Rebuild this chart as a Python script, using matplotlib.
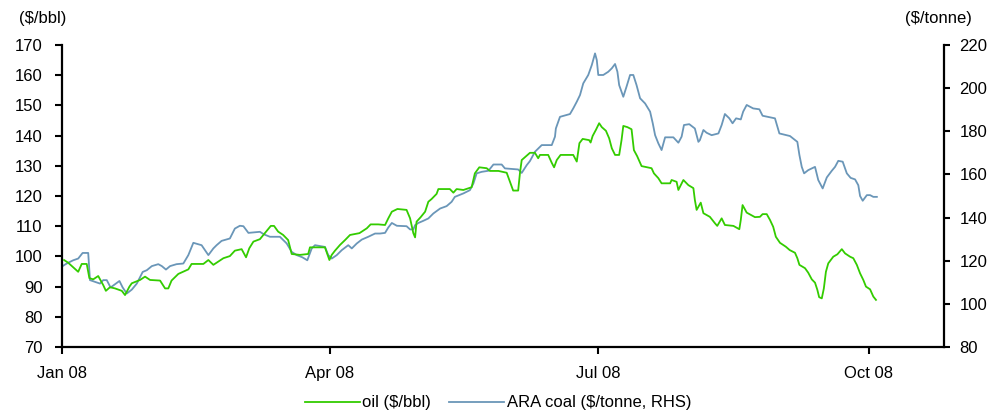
import numpy as np
import matplotlib
matplotlib.use("Agg")
import matplotlib.pyplot as plt
import datetime as dt

# ---- data (days since 1 Jan 2008, values) ----
oil_days = [0.7, 2.1, 3.8, 5.5, 6.7, 8.4, 9.3, 10.6, 12.3, 14.0, 14.9, 16.3, 18.0, 20.3, 21.4, 22.9,
            23.7, 26.5, 28.2, 29.9, 33.3, 35.0, 36.1, 37.2, 39.5, 42.9, 44.0, 48.0, 49.7, 51.4, 54.8,
            57.0, 58.7, 61.0, 62.5, 63.6, 65.0, 67.2, 68.9, 70.9, 72.0, 73.4, 75.1, 76.8, 78.0, 80.8,
            83.6, 84.2, 89.3, 90.8, 91.6, 92.7, 94.4, 96.1, 97.8, 101.0, 103.5, 104.8, 107.4, 109.7,
            110.8, 112.0, 113.9, 117.0, 118.2, 119.3, 119.9, 120.4, 121.8, 123.3, 124.4, 125.5, 127.2,
            127.8, 131.7, 132.9, 134.0, 136.3, 139.1, 140.2, 141.7, 144.2, 145.3, 148.2, 151.0, 152.1,
            153.2, 154.9, 155.5, 156.1, 158.9, 160.6, 161.7, 162.3, 165.1, 166.3, 167.1, 168.0, 169.3,
            173.6, 174.8, 175.7, 176.8, 179.0, 179.5, 180.2, 181.3, 182.4, 183.3, 184.7, 185.8, 186.7,
            187.8, 189.2, 190.0, 190.6, 192.0, 193.4, 194.2, 195.3, 196.8, 200.2, 201.0, 202.5, 203.6,
            206.5, 207.0, 208.7, 209.3, 211.0, 212.7, 214.4, 214.9, 215.5, 216.9, 217.8, 220.0, 221.7,
            222.5, 224.0, 225.1, 228.0, 230.0, 230.5, 231.1, 232.5, 235.3, 237.0, 237.9, 239.3, 240.4,
            241.5, 242.4, 243.8, 245.8, 247.1, 248.9, 249.7, 250.4, 252.3, 253.4, 254.6, 255.7, 256.5,
            257.1, 258.0, 258.7, 259.4, 260.2, 261.9, 263.3, 264.8, 265.9, 267.6, 268.7, 269.9, 271.0,
            272.1, 273.0, 274.4, 275.5, 276.4]
oil_values = [98.8, 97.9, 96.4, 94.9, 97.5, 97.5, 92.8, 92.4, 93.5, 90.5, 88.6, 89.8, 89.4, 88.6, 87.2, 90.0,
              91.1, 92.2, 93.3, 92.2, 92.0, 89.4, 89.4, 92.0, 94.2, 95.7, 97.5, 97.5, 98.8, 97.2, 99.4,
              100.1, 101.9, 102.4, 99.7, 102.7, 104.9, 105.7, 107.7, 110.1, 110.1, 108.2, 107.1, 105.4, 100.8, 100.5,
              100.8, 103.0, 103.0, 98.8, 100.5, 101.9, 103.8, 105.4, 107.1, 107.7, 109.3, 110.6, 110.6, 110.4,
              112.6, 114.8, 115.7, 115.4, 112.6, 107.7, 106.3, 111.5, 113.0, 114.8, 118.1, 119.0, 120.7,
              122.3, 122.3, 121.1, 122.3, 122.0, 122.9, 127.5, 129.5, 129.2, 128.3, 128.3, 127.7, 124.7,
              121.8, 121.8, 127.5, 131.9, 134.3, 134.3, 132.5, 133.6, 133.6, 131.0, 129.5, 131.9, 133.6,
              133.6, 131.4, 137.5, 138.9, 138.5, 137.7, 139.9, 141.9, 144.1, 142.8, 141.6, 139.1, 135.8,
              133.6, 133.6, 138.5, 143.2, 142.8, 142.1, 135.2, 133.2, 129.9, 129.2, 127.5, 125.9, 124.2,
              124.2, 125.3, 124.7, 122.0, 125.3, 123.6, 122.6, 118.7, 115.4, 117.8, 114.3, 113.1, 111.0,
              110.1, 112.6, 110.4, 110.1, 109.0, 112.1, 117.0, 114.5, 113.0, 113.1, 114.0, 114.0, 112.1,
              109.8, 106.5, 104.5, 103.2, 102.1, 101.2, 99.4, 97.2, 96.1, 94.6, 92.4, 91.3, 88.9,
              86.5, 86.1, 89.4, 94.9, 97.7, 99.9, 100.7, 102.4, 101.0, 99.9, 99.4, 97.2, 94.4,
              92.2, 90.0, 89.1, 86.7, 85.6]

coal_days = [0.2, 1.6, 3.8, 5.5, 7.0, 8.9, 9.5, 11.2, 12.9, 14.0, 15.2, 16.5, 18.0, 19.5, 20.6, 22.0,
             23.7, 25.4, 27.4, 28.8, 30.5, 32.7, 33.9, 35.3, 36.7, 38.9, 41.2, 42.9, 44.6, 47.4, 49.7,
             51.4, 52.5, 54.2, 57.0, 58.7, 60.4, 61.6, 63.3, 67.2, 68.6, 70.6, 74.0, 76.3, 78.0, 79.7,
             81.6, 83.3, 84.8, 85.9, 89.3, 90.4, 91.6, 93.3, 95.0, 97.2, 98.4, 100.1, 101.8, 104.0,
             106.3, 108.0, 109.7, 110.8, 112.0, 113.7, 117.0, 118.2, 119.3, 119.9, 121.0, 122.7, 124.4,
             126.1, 128.4, 130.6, 132.3, 133.4, 136.3, 138.5, 139.7, 140.8, 142.5, 144.8, 146.5, 149.3,
             150.4, 154.9, 156.1, 157.8, 158.9, 160.6, 162.9, 166.3, 167.4, 167.7, 169.1, 172.5, 173.6,
             174.8, 175.9, 177.0, 178.7, 179.9, 181.0, 181.6, 182.1, 183.8, 185.5, 186.7, 187.8, 188.6,
             189.2, 190.6, 191.7, 192.9, 194.0, 195.1, 196.3, 198.0, 199.7, 200.6, 201.4, 202.5, 203.6,
             204.8, 207.6, 209.3, 210.4, 211.2, 213.0, 214.9, 216.1, 216.6, 217.8, 218.9, 220.6, 222.9,
             224.0, 225.1, 226.6, 227.7, 228.9, 230.5, 231.3, 232.5, 234.7, 236.8, 237.9, 242.1, 243.6,
             247.2, 249.7, 250.4, 251.2, 252.0, 253.4, 255.7, 256.8, 258.3, 259.7, 261.4, 262.5, 263.6,
             265.1, 266.5, 267.8, 269.3, 270.4, 271.0, 271.9, 273.3, 274.4, 275.5, 276.7]
coal_values = [117.5, 118.7, 120.2, 121.0, 123.6, 123.6, 111.0, 110.2, 109.4, 111.0, 111.0, 107.6, 109.1, 110.6, 107.6, 104.8,
               106.6, 109.4, 114.8, 115.6, 117.5, 118.4, 117.5, 115.9, 117.5, 118.4, 118.7, 122.6, 128.3, 127.2, 122.6,
               125.7, 127.2, 129.2, 130.3, 134.9, 136.2, 136.0, 132.9, 133.4, 132.2, 131.1, 131.1, 128.0, 124.1, 122.6,
               121.6, 120.2, 125.7, 127.2, 126.4, 122.6, 121.0, 122.6, 124.9, 127.2, 125.7, 128.0, 129.8, 131.1,
               132.6, 132.6, 132.9, 135.4, 137.5, 136.2, 136.0, 134.5, 134.5, 136.5, 137.5, 138.5, 139.6,
               141.9, 144.2, 145.3, 147.3, 149.6, 151.2, 152.7, 155.8, 160.5, 161.2, 161.7, 164.6, 164.6,
               162.8, 162.3, 160.7, 164.3, 166.2, 170.5, 173.6, 173.6, 177.5, 181.3, 186.7, 188.0, 190.6,
               193.7, 196.8, 202.2, 206.1, 210.7, 216.1, 213.0, 206.1, 206.1, 207.6, 209.2, 211.2, 207.6,
               201.4, 196.0, 200.7, 206.1, 206.1, 201.4, 195.3, 192.9, 189.1, 183.7, 178.2, 174.4, 171.3,
               177.2, 177.2, 174.7, 177.5, 182.9, 183.3, 181.3, 175.1, 175.9, 180.6, 179.3, 178.2, 179.0,
               182.9, 188.0, 186.0, 183.7, 186.0, 185.5, 189.1, 192.2, 190.6, 190.2, 187.2, 186.0, 179.0,
               177.8, 175.1, 169.0, 163.5, 160.5, 162.0, 163.5, 157.4, 153.5, 158.6, 161.7, 163.5, 166.3,
               165.9, 160.5, 158.4, 157.7, 155.0, 150.0, 147.8, 150.4, 150.4, 149.6, 149.6]

x_tick_labels = ["Jan 08", "Apr 08", "Jul 08", "Oct 08"]
x_tick_dates = ["2008-01-01", "2008-04-01", "2008-07-01", "2008-10-01"]
left_ticks = [70, 80, 90, 100, 110, 120, 130, 140, 150, 160, 170]
right_ticks = [80, 100, 120, 140, 160, 180, 200, 220]

plt.rcParams['font.family'] = ['Liberation Sans', 'DejaVu Sans']

base = dt.datetime(2008, 1, 1)
oil_dates = [base + dt.timedelta(days=d) for d in oil_days]
coal_dates = [base + dt.timedelta(days=d) for d in coal_days]

GREEN = "#33cc00"
BLUE = "#6a96b8"
FS = 12

fig = plt.figure(figsize=(10.06, 4.16), dpi=100)
ax = fig.add_axes([62/1006, 1-347/416, (944-62)/1006, (347-45)/416])
ax2 = ax.twinx()

l1, = ax.plot(oil_dates, oil_values, color=GREEN, lw=1.3, label="oil ($/bbl)", zorder=3)
l2, = ax2.plot(coal_dates, coal_values, color=BLUE, lw=1.3, label="ARA coal ($/tonne, RHS)", zorder=2)
ax.set_zorder(ax2.get_zorder() + 1)
ax.patch.set_visible(False)

ax.set_xlim(base, base + dt.timedelta(days=299.5))
ax.set_ylim(70, 170)
ax2.set_ylim(80, 220)
ax.set_yticks(left_ticks)
ax2.set_yticks(right_ticks)
ax.set_xticks([dt.datetime.strptime(s, "%Y-%m-%d") for s in x_tick_dates])
ax.set_xticklabels(x_tick_labels)

for a in (ax, ax2):
    a.spines['top'].set_visible(False)
    for s in ('left', 'right', 'bottom'):
        a.spines[s].set_linewidth(1.6)
        a.spines[s].set_color('black')
ax.spines['right'].set_visible(False)
ax2.spines['left'].set_visible(False)
ax2.spines['bottom'].set_visible(False)

ax.tick_params(axis='y', direction='out', length=5, width=1.5, pad=9, labelsize=FS)
ax.tick_params(axis='x', direction='out', length=5, width=1.5, pad=9, labelsize=FS)
ax2.tick_params(axis='y', direction='out', length=4, width=1.5, pad=7, labelsize=FS)

fig.text(43/1006, 1-18/416, "($/bbl)", ha='center', va='center', fontsize=FS)
fig.text(938/1006, 1-18/416, "($/tonne)", ha='center', va='center', fontsize=FS)

fig.legend(handles=[l1, l2], loc='center', bbox_to_anchor=(0.495, 1-403/416), ncol=2,
           frameon=False, fontsize=FS, handlelength=3.3, handletextpad=0.15,
           columnspacing=1.1, borderaxespad=0, borderpad=0)

fig.savefig("out.png", dpi=100)
